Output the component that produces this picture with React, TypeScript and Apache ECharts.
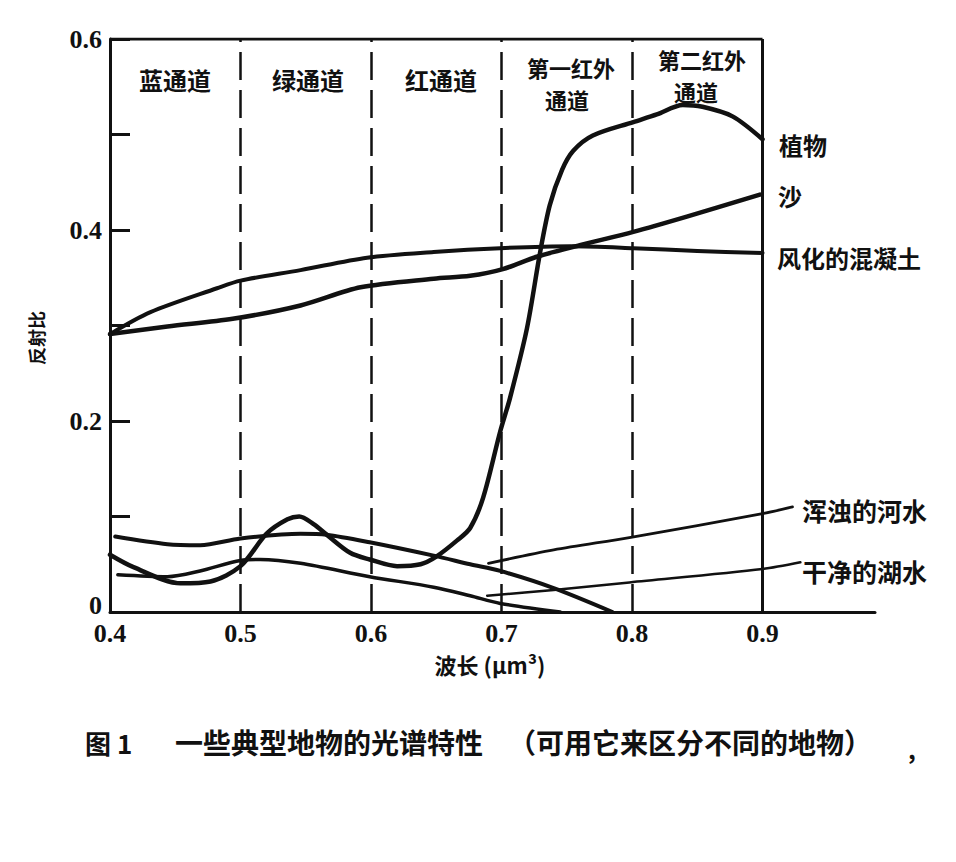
import React, { useEffect, useRef } from "react";
import * as echarts from "echarts";

// wavelength (μm), reflectance
const vegetation: [number, number][] = [
  [0.400, 0.060], [0.418, 0.047], [0.454, 0.030], [0.477, 0.032], [0.500, 0.048],
  [0.520, 0.082], [0.536, 0.097], [0.545, 0.100], [0.556, 0.092], [0.566, 0.081],
  [0.584, 0.062], [0.599, 0.055], [0.620, 0.048], [0.638, 0.050], [0.650, 0.058],
  [0.666, 0.075], [0.676, 0.088], [0.686, 0.120], [0.699, 0.189], [0.7065, 0.224],
  [0.7195, 0.297], [0.7295, 0.376], [0.737, 0.426], [0.7464, 0.463], [0.755, 0.483],
  [0.770, 0.499], [0.801, 0.513], [0.819, 0.521], [0.839, 0.531], [0.854, 0.529],
  [0.877, 0.519], [0.900, 0.495],
];
const sand: [number, number][] = [
  [0.400, 0.291], [0.444, 0.299], [0.494, 0.307], [0.546, 0.321], [0.592, 0.340],
  [0.648, 0.349], [0.676, 0.352], [0.701, 0.359], [0.727, 0.372], [0.760, 0.384],
  [0.801, 0.398], [0.842, 0.414], [0.898, 0.437],
];
const weatheredConcrete: [number, number][] = [
  [0.400, 0.291], [0.431, 0.314], [0.482, 0.339], [0.500, 0.347], [0.546, 0.358],
  [0.597, 0.371], [0.648, 0.377], [0.699, 0.381], [0.753, 0.383], [0.801, 0.381],
  [0.850, 0.378], [0.900, 0.376],
];
const turbidRiver: [number, number][] = [
  [0.404, 0.079], [0.444, 0.071], [0.469, 0.070], [0.500, 0.077], [0.546, 0.082],
  [0.566, 0.081], [0.599, 0.073], [0.648, 0.059], [0.676, 0.050], [0.699, 0.043],
  [0.740, 0.025], [0.785, 0.000],
];
const clearLake: [number, number][] = [
  [0.406, 0.039], [0.444, 0.037], [0.469, 0.043], [0.500, 0.054], [0.515, 0.055],
  [0.546, 0.051], [0.599, 0.037], [0.648, 0.026], [0.676, 0.017], [0.699, 0.009],
  [0.745, 0.000],
];
const turbidLeader: [number, number][] = [
  [0.690, 0.051], [0.740, 0.065], [0.798, 0.078], [0.900, 0.103], [0.923, 0.110],
];
const clearLeader: [number, number][] = [
  [0.689, 0.017], [0.740, 0.023], [0.798, 0.031], [0.900, 0.045], [0.929, 0.052],
];
const channelBounds = [0.5, 0.6, 0.7, 0.8];
const xMin = 0.4;
const xMax = 0.9862;
const plotEnd = 0.9;
const yMax = 0.6;
const channelLabels = ["蓝通道", "绿通道", "红通道", "第一红外", "通道", "第二红外", "通道"];
const curveLabels = ["植物", "沙", "风化的混凝土", "浑浊的河水", "干净的湖水"];

export default function App() {
  const ref = useRef<HTMLDivElement>(null);
  useEffect(() => {
    const chart = echarts.init(ref.current!, null, { renderer: "svg" });
    const ink = "#111";
    const curve = (name: string, data: [number, number][], width: number, smooth = 0.3) => ({
      type: "line",
      name,
      data,
      smooth,
      symbol: "none",
      silent: true,
      lineStyle: { color: ink, width, cap: "round", join: "round" },
      z: 3,
    });
    const cjk = { fontFamily: "Noto Sans CJK SC", fontWeight: "bold", fill: ink };
    const txt = (text: string, x: number, y: number, fontSize: number, align = "center", extra: any = {}) => ({
      type: "text",
      x,
      y,
      silent: true,
      ...extra,
      style: { text, fontSize, align, verticalAlign: "middle", ...cjk },
    });
    const serifNum = { fontFamily: "Liberation Serif", fontWeight: "bold", fontSize: 26, color: ink };

    chart.setOption({
      animation: false,
      backgroundColor: "#fff",
      grid: { left: 110, top: 39, width: 765, height: 573, containLabel: false },
      xAxis: {
        type: "value",
        min: xMin,
        max: xMax,
        interval: 0.1,
        axisLine: { show: true, lineStyle: { color: ink, width: 3 } },
        axisTick: { show: false },
        splitLine: { show: false },
        axisLabel: {
          ...serifNum,
          margin: 8,
          formatter: (v: number) => (v > 0.95 ? "" : v.toFixed(1)),
        },
      },
      yAxis: {
        type: "value",
        min: 0,
        max: yMax,
        interval: 0.1,
        axisLine: { show: true, lineStyle: { color: ink, width: 3 } },
        axisTick: { show: true, inside: true, length: 20, lineStyle: { color: ink, width: 3 } },
        splitLine: { show: false },
        axisLabel: {
          ...serifNum,
          margin: 8,
          formatter: (v: number) => {
            const r = Math.round(v * 10);
            if (r % 2) return "";
            return r === 0 ? "{z|0}" : (r / 10).toFixed(1);
          },
          rich: {
            z: { ...serifNum, padding: [0, 0, 14, 0] },
          },
        },
      },
      series: [
        {
          type: "line",
          data: [[xMin, yMax], [plotEnd, yMax]],
          symbol: "none",
          silent: true,
          lineStyle: { color: ink, width: 3 },
          markLine: {
            symbol: "none",
            silent: true,
            label: { show: false },
            lineStyle: { color: ink, width: 2.5, type: [28, 10] },
            data: channelBounds.map((b) => ({ xAxis: b })),
          },
        },
        {
          type: "line",
          data: [[plotEnd, 0], [plotEnd, yMax]],
          symbol: "none",
          silent: true,
          lineStyle: { color: ink, width: 3 },
        },
        curve("植物", vegetation, 4.5),
        curve("沙", sand, 4.5),
        curve("风化的混凝土", weatheredConcrete, 4),
        curve("浑浊的河水", turbidRiver, 4),
        curve("干净的湖水", clearLake, 3.5),
        curve("浑浊的河水引线", turbidLeader, 2.8),
        curve("干净的湖水引线", clearLeader, 2.5),
      ],
      graphic: [
        txt(channelLabels[0], 175, 79, 24),
        txt(channelLabels[1], 308, 79, 24),
        txt(channelLabels[2], 441, 79, 24),
        txt(channelLabels[3], 571, 67, 22),
        txt(channelLabels[4], 567, 99, 22),
        txt(channelLabels[5], 702, 59, 22),
        txt(channelLabels[6], 696, 91, 22),
        txt(curveLabels[0], 779, 144, 24, "left"),
        txt(curveLabels[1], 778, 195, 24, "left"),
        txt(curveLabels[2], 777, 257, 24, "left"),
        txt(curveLabels[3], 802, 510, 25, "left"),
        txt(curveLabels[4], 802, 571, 25, "left"),
        txt("反射比", 36, 338, 18, "center", { rotation: Math.PI / 2 }),
        txt("波长 (μm³)", 490, 664, 22),
        txt("图 1", 85, 742, 26, "left"),
        txt("一些典型地物的光谱特性", 175, 742, 28, "left"),
        txt("（可用它来区分不同的地物）", 508, 742, 28, "left"),
        txt(",", 908, 748, 24, "left"),
      ],
    });
    return () => chart.dispose();
  }, []);
  return (
    <div
      ref={ref}
      style={{ position: "absolute", left: 0, top: 0, width: 956, height: 862, background: "#fff" }}
    />
  );
}
